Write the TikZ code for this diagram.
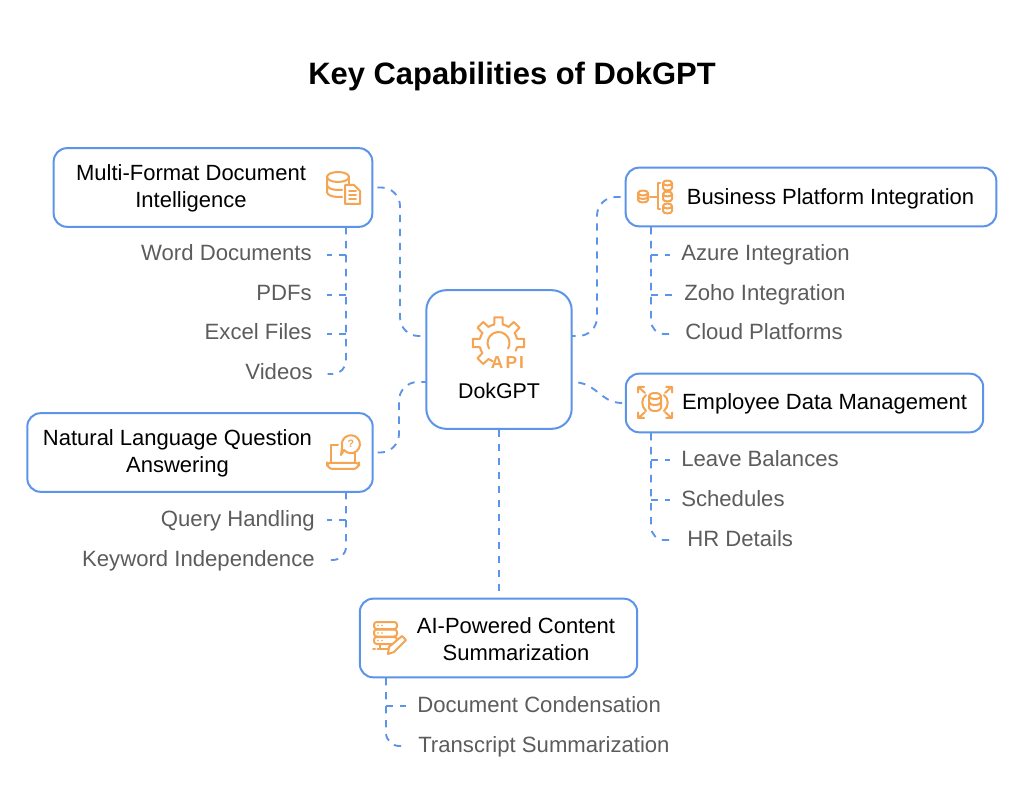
\documentclass[tikz,border=0pt]{standalone}
\usepackage{fontspec}
\setmainfont{Liberation Sans}
\definecolor{linkblue}{HTML}{5B94E8}
\definecolor{iconorange}{HTML}{F5A452}
\definecolor{itemgray}{HTML}{5C5C5C}
\tikzset{
	capbox/.style={draw=linkblue,line width=1.5pt,rounded corners=10pt,fill=white},
	boxlabel/.style={align=center,inner sep=0pt,font=\fontsize{16.5}{20.2}\selectfont,text=black},
	itemlabel/.style={inner sep=0pt,font=\fontsize{16.6}{20}\selectfont,text=itemgray,text height=12pt,text depth=3pt},
	linkline/.style={draw=linkblue,line width=1.4pt,dash pattern=on 5.5pt off 5pt},
	iconline/.style={draw=iconorange,line width=1.5pt,line cap=round,line join=round}
}
\begin{document}
\begin{tikzpicture}[x=0.75pt,y=-0.75pt]
	\useasboundingbox (0,0) rectangle (1024,812);
	% title
	\node[inner sep=0pt,font=\fontsize{23.2}{28}\selectfont\bfseries] (title) at (512,77) {Key Capabilities of DokGPT};
	% hub and boxes
	\node[capbox,rounded corners=15pt,minimum width=109pt,minimum height=104pt] (hub) at (499,359.5) {};
	\node[capbox,minimum width=239pt,minimum height=59pt] (formatbox) at (213,187.5) {};
	\node[capbox,minimum width=259pt,minimum height=59pt] (questionbox) at (200,452.5) {};
	\node[capbox,minimum width=278pt,minimum height=44pt] (platformbox) at (811,197) {};
	\node[capbox,minimum width=268pt,minimum height=44pt] (employeebox) at (804.5,403) {};
	\node[capbox,minimum width=208pt,minimum height=59pt] (summarybox) at (498.5,638) {};
	% box texts
	\node[boxlabel,font=\fontsize{16}{20}\selectfont] (hubtext) at (499,391) {DokGPT};
	\node[boxlabel] (formattext) at (191,188) {Multi-Format Document\\Intelligence};
	\node[boxlabel] (questiontext) at (177.5,453) {Natural Language Question\\Answering};
	\node[boxlabel] (platformtext) at (830.5,199) {Business Platform Integration};
	\node[boxlabel] (employeetext) at (824.5,404) {Employee Data Management};
	\node[boxlabel] (summarytext) at (516,639) {AI-Powered Content\\Summarization};
	% items
	\node[itemlabel,anchor=east] (word) at (312,255) {Word Documents};
	\node[itemlabel,anchor=east] (pdfs) at (312,295) {PDFs};
	\node[itemlabel,anchor=east] (excel) at (312,334) {Excel Files};
	\node[itemlabel,anchor=east] (videos) at (313,374) {Videos};
	\node[itemlabel,anchor=east] (query) at (315,520) {Query Handling};
	\node[itemlabel,anchor=east] (keyword) at (315,560) {Keyword Independence};
	\node[itemlabel,anchor=west] (azure) at (681,255) {Azure Integration};
	\node[itemlabel,anchor=west] (zoho) at (684,295) {Zoho Integration};
	\node[itemlabel,anchor=west] (cloud) at (685,334) {Cloud Platforms};
	\node[itemlabel,anchor=west] (leave) at (681,460) {Leave Balances};
	\node[itemlabel,anchor=west] (schedules) at (681,500) {Schedules};
	\node[itemlabel,anchor=west] (hrdetails) at (687,540) {HR Details};
	\node[itemlabel,anchor=west] (condense) at (417,706) {Document Condensation};
	\node[itemlabel,anchor=west] (transcript) at (418,746) {Transcript Summarization};
	% hub connectors
	\coordinate (hubleftup) at (426,336);
	\coordinate (hubleftdown) at (426,382);
	\coordinate (hubrightup) at (572,336);
	\coordinate (hubrightdown) at (572,382);
	\draw[linkline,rounded corners=14pt,shorten <=3pt] (formatbox.east) -- (400,187.5) -- (400,336) -- (hubleftup);
	\draw[linkline,rounded corners=14pt,shorten <=3pt] (questionbox.east) -- (399,452.5) -- (399,382) -- (hubleftdown);
	\draw[linkline,rounded corners=14pt,shorten <=3pt] (platformbox.west) -- (597,197) -- (597,336) -- (hubrightup);
	\draw[linkline,shorten <=2pt] (employeebox.west) .. controls (600,403) and (597,382) .. (hubrightdown);
	\draw[linkline] (hub.south) -- (summarybox.north -| hub.south);
	% stems
	\coordinate (formatstem) at (346,227);
	\coordinate (questionstem) at (346,492);
	\coordinate (platformstem) at (651,227);
	\coordinate (employeestem) at (651,433);
	\coordinate (summarystem) at (386,678);
	\foreach \itemname in {word,pdfs,excel}
		\draw[linkline,shorten >=11pt] (formatstem |- \itemname.east) -- (\itemname.east);
	\draw[linkline,rounded corners=10pt,shorten >=11pt] (formatstem) |- (videos.east);
	\draw[linkline,shorten >=9pt] (questionstem |- query.east) -- (query.east);
	\draw[linkline,rounded corners=10pt,shorten >=9pt] (questionstem) |- (keyword.east);
	\foreach \itemname in {azure,zoho}
		\draw[linkline,shorten >=8pt] (platformstem |- \itemname.west) -- (\itemname.west);
	\draw[linkline,rounded corners=10pt,shorten >=8pt] (platformstem) |- (cloud.west);
	\foreach \itemname in {leave,schedules}
		\draw[linkline,shorten >=8pt] (employeestem |- \itemname.west) -- (\itemname.west);
	\draw[linkline,rounded corners=10pt,shorten >=10pt] (employeestem) |- (hrdetails.west);
	\draw[linkline,shorten >=8pt] (summarystem |- condense.west) -- (condense.west);
	\draw[linkline,rounded corners=10pt,shorten >=8pt] (summarystem) |- (transcript.west);
	% gear icon
	\begin{scope}[shift={(498.5,343)}]
		\foreach \a in {-225,-180,-135,-90,-45,0}
			\draw[iconline] (\a-13:19) -- (\a-9:26) -- (\a+9:26) -- (\a+13:19);
		\foreach \a in {-225,-180,-135,-90,-45}
			\draw[iconline] (\a+13:19) arc (\a+13:\a+32:19);
		\draw[iconline] (13:19) arc (13:24:19);
		\draw[iconline] (122:19) arc (122:108:19);
		\draw[iconline] (150:11) arc (150:390:11);
	\end{scope}
	\node[inner sep=0pt,text=iconorange,font=\fontsize{13}{13}\selectfont\bfseries\addfontfeature{LetterSpace=12}] (apitext) at (507.5,363) {API};
	% database and document icon
	\draw[iconline] (349,177) arc (0:360:11 and 5);
	\draw[iconline] (327,177) -- (327,192) arc (180:90:11 and 5) -- (342,197);
	\draw[iconline] (327,185) arc (180:90:11 and 5) -- (342,190);
	\draw[iconline] (349,177) -- (349,184);
	\draw[iconline,fill=white] (345,185) -- (354,185) -- (360,191) -- (360,204) -- (345,204) -- cycle;
	\foreach \y in {191,195,199}
		\draw[iconline] (349,\y) -- (356,\y);
	% laptop icon
	\draw[iconline] (338,445) -- (331,445) -- (331,463);
	\draw[iconline] (355,452) -- (355,463);
	\draw[iconline,rounded corners=2pt] (327,463) -- (359,463) -- (359,465) -- (356,469) -- (330,469) -- (327,465) -- cycle;
	\draw[iconline,fill=white] (344,450) arc (140:-195:9) -- (341,455) -- cycle;
	\node[inner sep=0pt,text=iconorange,font=\fontsize{8}{8}\selectfont\bfseries] (asktext) at (351,444) {?};
	% platform icon
	\draw[iconline] (648,193) arc (0:360:5 and 2.5) (638,193) -- (638,200) arc (180:0:5 and 2.5) -- (648,193) (638,196.5) arc (180:0:5 and 2.5);
	\draw[iconline] (650,197) -- (658,197) (660,183) -- (658,183) -- (658,209) -- (660,209);
	\foreach \y in {183,194,206}{
		\draw[iconline] (672,\y) arc (0:360:4.5 and 2.5) (663,\y) -- (663,\y+5) arc (180:0:4.5 and 2.5) -- (672,\y);
	}
	% employee icon
	\foreach \sx/\sy in {-1/-1,1/-1,-1/1,1/1}{
		\begin{scope}[shift={(655,402.5)},xscale=\sx,yscale=\sy]
			\draw[iconline] (10,9.5) -- (16,15) (11,15.5) -- (17,15.5) -- (17,10);
		\end{scope}
	}
	\draw[iconline] (661,396) arc (0:360:6 and 3) (649,396) -- (649,408) arc (180:0:6 and 3) -- (661,396) (649,402) arc (180:0:6 and 3);
	\draw[iconline] (646,395) .. controls (641,399) and (641,406) .. (646,411);
	\draw[iconline] (664,395) .. controls (669,399) and (669,406) .. (664,411);
	% summary icon
	\foreach \y in {622,629.5,637}{
		\draw[iconline,rounded corners=2pt] (374,\y) rectangle (397,\y+7);
		\fill[iconorange] (378,\y+3.5) circle (0.9) (382,\y+3.5) circle (0.9);
	}
	\draw[iconline,dotted] (373,649) -- (380,649);
	\draw[iconline] (380,644) -- (380,649) -- (390,649) -- (390,644);
	\draw[iconline,fill=white] (388,654) -- (389,647) -- (402,636) -- (406,640) -- (394,652) -- cycle;
\end{tikzpicture}
\end{document}
